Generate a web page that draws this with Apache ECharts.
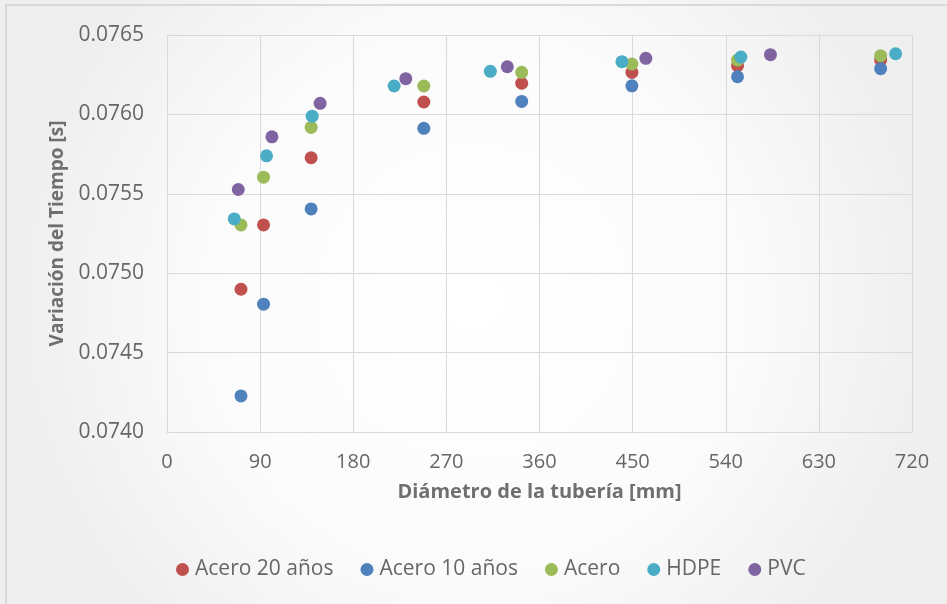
<!DOCTYPE html>
<html>
<head>
<meta charset="utf-8">
<script src="https://cdn.jsdelivr.net/npm/echarts@6/dist/echarts.min.js"></script>
<style>html,body{margin:0;padding:0;background:#fff}#c{width:947px;height:604px}</style>
</head>
<body>
<div id="c"></div>
<script>
// Diameters (mm)
const diamAcero = [71.5, 93.3, 139.3, 248.2, 342.8, 449.3, 551.4, 689.7];
const diamHDPE  = [65, 96.2, 140.3, 219.5, 312.5, 439.7, 554.6, 704.2];
const diamPVC   = [68.9, 101.4, 148, 230.8, 328.9, 462.8, 583.2];
// Time variation (s)
const acero20 = [0.074899, 0.075304, 0.075727, 0.076078, 0.076196, 0.076265, 0.076307, 0.076342];
const acero10 = [0.074227, 0.074805, 0.075405, 0.075912, 0.076082, 0.076180, 0.076237, 0.076288];
const acero   = [0.075304, 0.075605, 0.075918, 0.076179, 0.076265, 0.076317, 0.076342, 0.076370];
const hdpe    = [0.075342, 0.075739, 0.075989, 0.076179, 0.076271, 0.076332, 0.076361, 0.076382];
const pvc     = [0.075527, 0.075859, 0.076070, 0.076225, 0.076300, 0.076353, 0.076376];

const seriesNames = ['Acero 20 años', 'Acero 10 años', 'Acero', 'HDPE', 'PVC'];
const colors = ['#C0504D', '#4F81BD', '#9BBB59', '#4BACC6', '#8064A2'];
const xs = [diamAcero, diamAcero, diamAcero, diamHDPE, diamPVC];
const ys = [acero20, acero10, acero, hdpe, pvc];

const FONT = '"Open Sans", "DejaVu Sans", sans-serif';
const chart = echarts.init(document.getElementById('c'), null, {renderer: 'canvas'});
chart.setOption({
  animation: false,
  backgroundColor: {
    type: 'radial', x: 0.5, y: 0.5, r: 0.75,
    colorStops: [{offset: 0, color: '#ffffff'}, {offset: 0.6, color: '#fbfbfb'}, {offset: 1, color: '#efefef'}]
  },
  textStyle: {fontFamily: FONT},
  color: colors,
  graphic: [{
    type: 'rect', z: 100,
    shape: {x: 6, y: 5, width: 1000, height: 1000},
    style: {fill: 'none', stroke: '#d9d9d9', lineWidth: 2}
  }],
  grid: {left: 167, right: 35, top: 35, bottom: 172, containLabel: false},
  xAxis: {
    type: 'value', min: 0, max: 720, interval: 90,
    name: 'Diámetro de la tubería [mm]',
    nameLocation: 'middle', nameGap: 50,
    nameTextStyle: {fontSize: 20, fontWeight: 'bold', color: '#6f6f6f', fontFamily: FONT},
    axisLine: {show: true, lineStyle: {color: '#d9d9d9', width: 1}},
    axisTick: {show: false},
    axisLabel: {fontSize: 20, color: '#666666', margin: 20, fontFamily: FONT},
    splitLine: {show: true, lineStyle: {color: '#d9d9d9', width: 1}}
  },
  yAxis: {
    type: 'value', min: 0.074, max: 0.0765, interval: 0.0005,
    name: 'Variación del Tiempo [s]',
    nameLocation: 'middle', nameGap: 99, nameRotate: 90,
    nameTextStyle: {fontSize: 19, fontWeight: 'bold', color: '#6f6f6f', fontFamily: FONT},
    axisLine: {show: true, lineStyle: {color: '#d9d9d9', width: 1}},
    axisTick: {show: false},
    axisLabel: {fontSize: 21, color: '#666666', margin: 23, fontFamily: FONT,
      formatter: v => v.toFixed(4)},
    splitLine: {show: true, lineStyle: {color: '#d9d9d9', width: 1}}
  },
  legend: {
    left: 176, top: 559, padding: 0,
    icon: 'circle', itemWidth: 13, itemHeight: 13, itemGap: 27,
    textStyle: {fontSize: 21, color: '#666666', fontFamily: FONT, padding: [0, 0, 0, 1]},
    data: seriesNames
  },
  series: seriesNames.map((n, i) => ({
    name: n, type: 'scatter', symbol: 'circle', symbolSize: 13,
    itemStyle: {color: colors[i], opacity: 1},
    data: xs[i].map((x, j) => [x, ys[i][j]])
  }))
});
</script>
</body>
</html>
